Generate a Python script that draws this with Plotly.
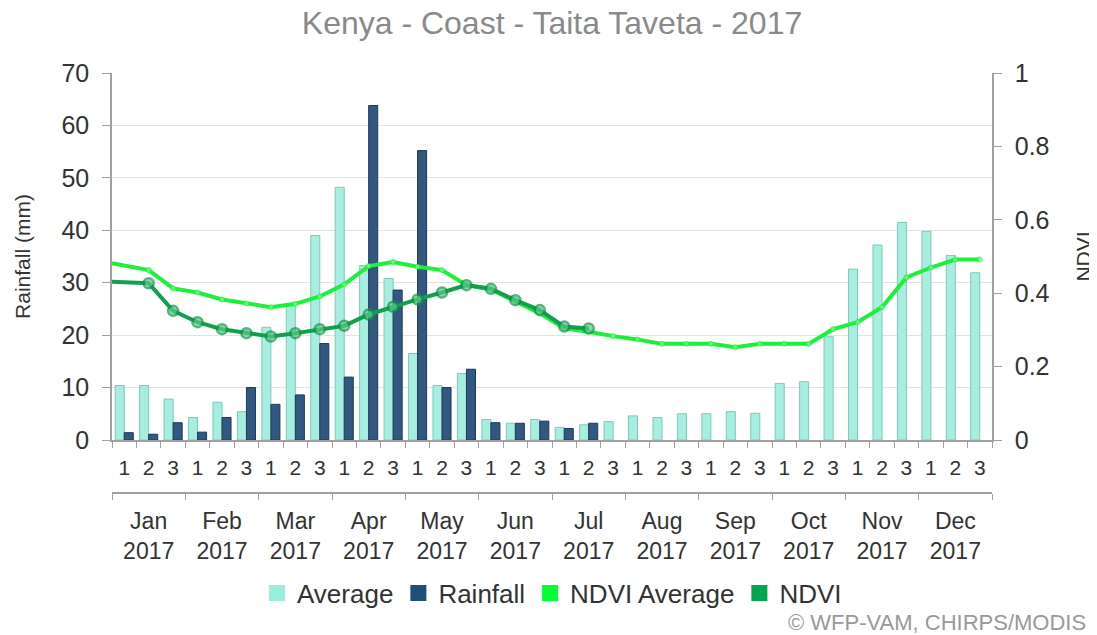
import plotly.graph_objects as go

# ---- data ----
months = ["Jan", "Feb", "Mar", "Apr", "May", "Jun", "Jul", "Aug", "Sep", "Oct", "Nov", "Dec"]
year = "2017"
dekads = ["1", "2", "3"]

average_mm = [10.4, 10.4, 7.8, 4.3, 7.2, 5.4, 21.5, 25.8, 39.0, 48.2, 33.3, 30.8,
              16.5, 10.4, 12.7, 3.9, 3.2, 3.9, 2.4, 2.9, 3.5, 4.6, 4.3, 5.0,
              5.0, 5.4, 5.1, 10.8, 11.1, 19.7, 32.6, 37.2, 41.5, 39.8, 35.2, 31.9]
rainfall_mm = [1.4, 1.1, 3.3, 1.5, 4.3, 10.0, 6.8, 8.6, 18.4, 12.0, 63.8, 28.6,
               55.2, 10.0, 13.5, 3.3, 3.2, 3.6, 2.2, 3.2] + [None] * 16
ndvi_average = [0.482, 0.463, 0.413, 0.402, 0.383, 0.372, 0.362, 0.371, 0.391, 0.424, 0.474, 0.485,
                0.472, 0.463, 0.422, 0.410, 0.377, 0.345, 0.304, 0.295, 0.283, 0.274, 0.262, 0.262,
                0.262, 0.253, 0.262, 0.262, 0.262, 0.302, 0.321, 0.362, 0.443, 0.470, 0.492, 0.492]
ndvi = [0.431, 0.427, 0.352, 0.321, 0.302, 0.291, 0.282, 0.291, 0.302, 0.311, 0.342, 0.363,
        0.383, 0.402, 0.422, 0.412, 0.381, 0.354, 0.309, 0.304] + [None] * 16

n = len(months) * len(dekads)
x_idx = list(range(n))
# the reference draws the first NDVI point at the start of the axis
ndvi_x = [-0.5] + x_idx[1:]
dekad_labels = dekads * len(months)
month_centers = [i * 3 + 1 for i in range(len(months))]
month_labels = [f"{m}<br>{year}" for m in months]

FONT = "Liberation Sans, Arial, sans-serif"
AXC = "#a0a0a0"
TXT = "#333333"
C_AVG, C_AVG_LINE = "#a8eee0", "#7ccab9"
C_RAIN, C_RAIN_LINE = "#33587f", "#1e3a5a"
C_NAVG = "#1cf03a"
C_NDVI = "#12a04e"

# page body has an 8px margin, so the figure is 16px smaller than the window
W, H = 1089, 627

fig = go.Figure()
fig.add_trace(go.Bar(x=x_idx, y=average_mm, name="Average", showlegend=False,
                     marker=dict(color=C_AVG, line=dict(color=C_AVG_LINE, width=1))))
fig.add_trace(go.Bar(x=x_idx, y=rainfall_mm, name="Rainfall", showlegend=False,
                     marker=dict(color=C_RAIN, line=dict(color=C_RAIN_LINE, width=1))))
fig.add_trace(go.Scatter(x=ndvi_x, y=ndvi_average, yaxis="y2", mode="lines+markers", name="NDVI Average",
                         showlegend=False, line=dict(color=C_NAVG, width=4),
                         marker=dict(size=[0] + [5] * (n - 1), color="#7dff8e",
                                     line=dict(color=C_NAVG, width=1))))
fig.add_trace(go.Scatter(x=ndvi_x, y=ndvi, yaxis="y2", mode="lines+markers", name="NDVI",
                         showlegend=False, line=dict(color=C_NDVI, width=4),
                         marker=dict(size=[0] + [10] * (n - 1), color="#5cc98a",
                                     line=dict(color="#0e9447", width=2.5))))
# carrier trace so the month axis is drawn
fig.add_trace(go.Scatter(x=[None], y=[None], xaxis="x2", showlegend=False, hoverinfo="skip"))

# legend entries (square symbols)
for name, col in [("Average", "#99eedd"), ("Rainfall", "#1f4e79"),
                  ("NDVI Average", "#00ff33"), ("NDVI", "#00a651")]:
    fig.add_trace(go.Scatter(x=[None], y=[None], mode="markers", name=name,
                             marker=dict(symbol="square", size=16, color=col)))

fig.update_layout(
    width=W, height=H,
    margin=dict(l=104, r=105, t=65, b=142, autoexpand=False),
    paper_bgcolor="white", plot_bgcolor="white",
    font=dict(family=FONT, color=TXT),
    title=dict(text="Kenya - Coast - Taita Taveta - 2017", x=0.5, xref="paper",
               y=1, yanchor="top", pad=dict(t=4, b=0), font=dict(size=32, color="#8a8a8a")),
    barmode="group", bargap=0.26, bargroupgap=0,
    xaxis=dict(range=[-0.5, n - 0.5], tickmode="array", tickvals=x_idx, ticktext=dekad_labels,
               ticks="", showline=True, linecolor=AXC, linewidth=1.5, showgrid=False, zeroline=False,
               automargin=False, tickfont=dict(size=21, color=TXT), ticklabelstandoff=8,
               minor=dict(tickmode="array", tickvals=[i - 0.5 for i in range(n + 1)],
                          ticks="outside", ticklen=6, tickcolor=AXC, showgrid=False)),
    xaxis2=dict(overlaying="x", anchor="free", position=0, side="bottom",
                range=[-0.5, n - 0.5], tickmode="array", tickvals=month_centers, ticktext=month_labels,
                ticks="", showline=True, linecolor=AXC, linewidth=1.5, showgrid=False, zeroline=False,
                automargin=False, tickfont=dict(size=23, color=TXT), ticklabelstandoff=8,
                minor=dict(tickmode="array", tickvals=[i * 3 - 0.5 for i in range(len(months) + 1)],
                           ticks="outside", ticklen=6, tickcolor=AXC, showgrid=False)),
    yaxis=dict(domain=[53 / 420, 1], range=[0, 70], dtick=10, showgrid=True, gridcolor="#e3e3e3",
               showline=True, linecolor=AXC, linewidth=1.5, ticks="outside", ticklen=8, tickcolor=AXC,
               zeroline=False, automargin=False, tickfont=dict(size=25, color=TXT), ticklabelstandoff=8,
               title=dict(text="Rainfall (mm)", font=dict(size=21, color=TXT), standoff=25)),
    yaxis2=dict(overlaying="y", side="right", range=[0, 1], dtick=0.2, showgrid=False,
                showline=True, linecolor=AXC, linewidth=1.5, ticks="outside", ticklen=8, tickcolor=AXC,
                zeroline=False, automargin=False, tickfont=dict(size=25, color=TXT), ticklabelstandoff=8,
                title=dict(text="NDVI", font=dict(size=21, color=TXT), standoff=28)),
    legend=dict(orientation="h", x=0.5, xanchor="center", y=(493 - 593) / 420,
                yanchor="middle", font=dict(size=26, color=TXT), itemwidth=30,
                bgcolor="rgba(0,0,0,0)"),
    annotations=[dict(text="© WFP-VAM, CHIRPS/MODIS", xref="paper", yref="paper",
                      x=(1088 - 112) / 880, xanchor="right", y=(493 - 622) / 420, yanchor="middle",
                      showarrow=False, font=dict(size=22, color="#999999"))],
)

fig.write_html("out.html")
